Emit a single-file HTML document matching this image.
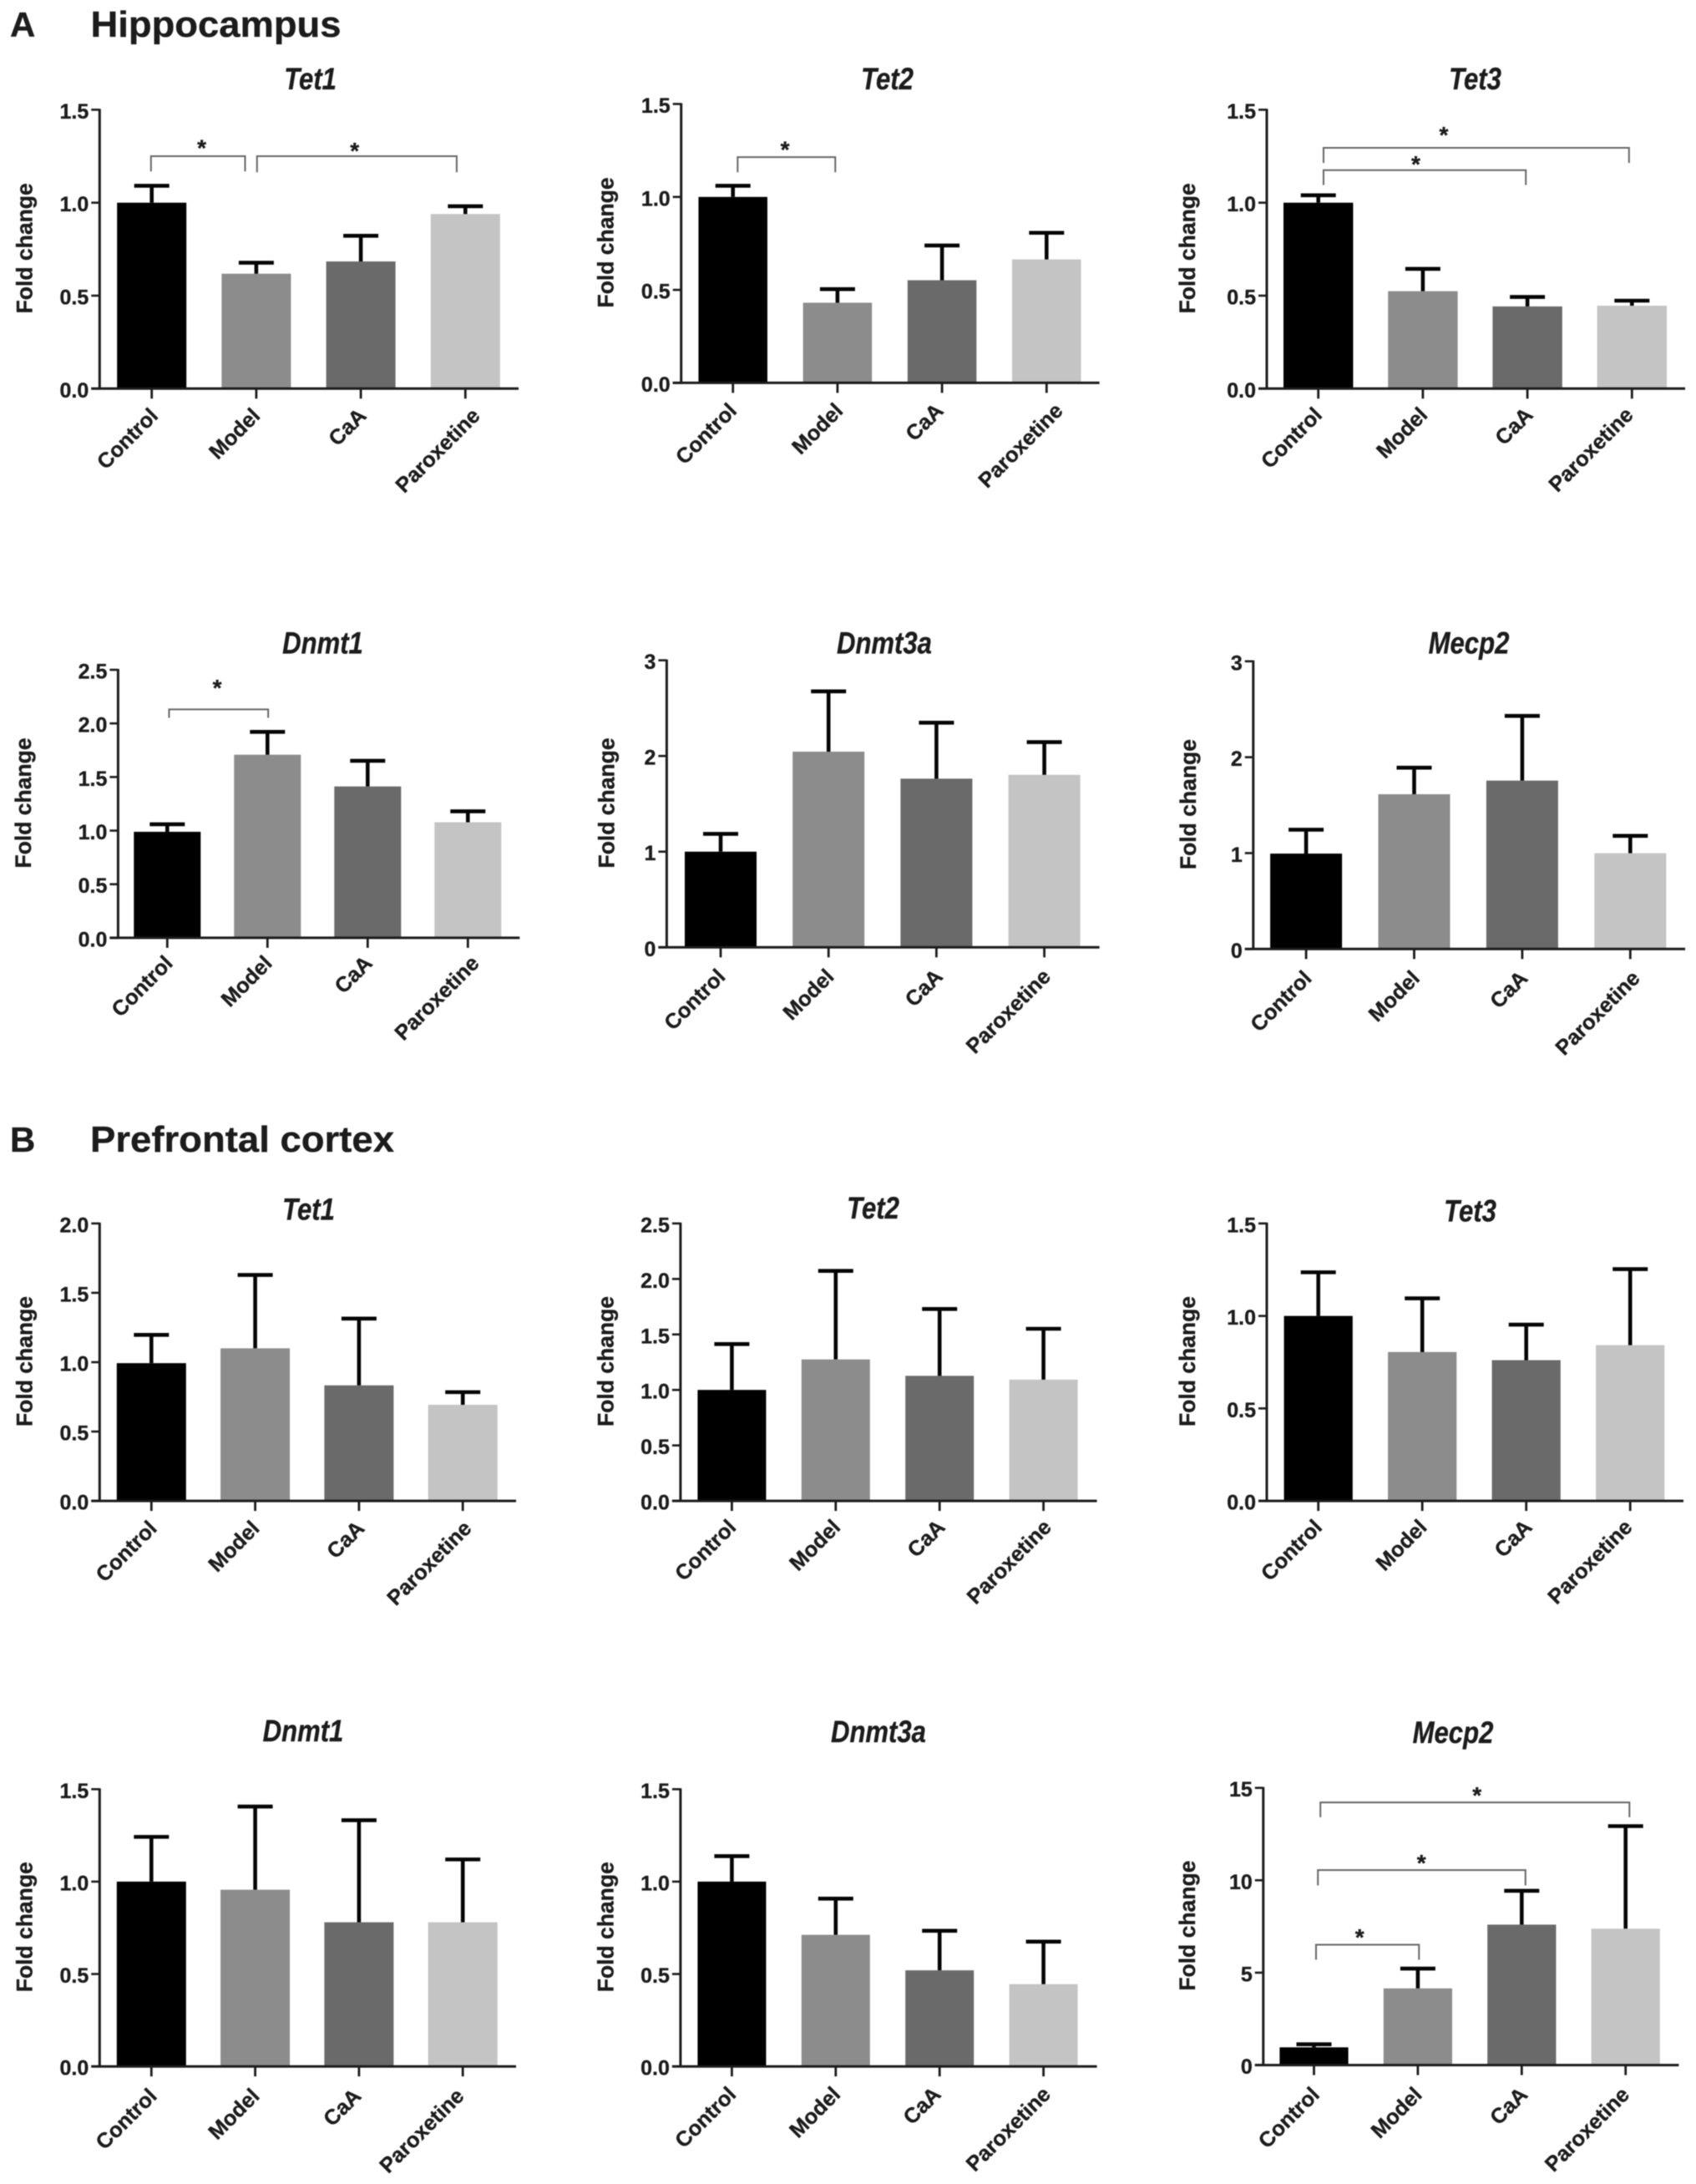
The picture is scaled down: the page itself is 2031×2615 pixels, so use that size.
<!DOCTYPE html>
<html lang="en">
<head>
<meta charset="utf-8">
<title>Fold change of methylation genes in hippocampus and prefrontal cortex</title>
<style>
html,body{margin:0;padding:0;background:#fff;width:2031px;height:2615px;overflow:hidden}
svg{display:block;filter:blur(.55px)}
text{font-family:"Liberation Sans",Arial,sans-serif;fill:#1c1c1c;stroke:#1c1c1c;stroke-width:.35px}
</style>
</head>
<body>
<svg id="figure" xmlns="http://www.w3.org/2000/svg" width="2031" height="2615" viewBox="0 0 2031 2615">
  <rect x="0" y="0" width="2031" height="2615" fill="#fff"/>
  <text x="12" y="44" font-size="42" font-weight="700">A</text>
  <text x="108.5" y="44" font-size="44" font-weight="700" textLength="300" lengthAdjust="spacingAndGlyphs">Hippocampus</text>
  <text x="12" y="1379" font-size="42" font-weight="700">B</text>
  <text x="108" y="1379" font-size="44" font-weight="700" textLength="364" lengthAdjust="spacingAndGlyphs">Prefrontal cortex</text>
</svg>
<script>
const categories = ['Control', 'Model', 'CaA', 'Paroxetine'];
const barColors = ['#000000', '#8c8c8c', '#6a6a6a', '#c4c4c4'];
const axisTitle = 'Fold change';

const hippoTet1Means = [1.0, 0.618, 0.684, 0.939];
const hippoTet1Upper = [1.091, 0.677, 0.822, 0.981];
const hippoTet1Ticks = ['0.0', '0.5', '1.0', '1.5'];
const hippoTet1Brackets = [[-0.007, 0.893, 1.25, 1.168, 0.478, 1.324], [1.007, 2.917, 1.25, 1.164, 1.941, 1.309]];

const hippoTet2Means = [1.0, 0.431, 0.552, 0.664];
const hippoTet2Upper = [1.06, 0.504, 0.739, 0.807];
const hippoTet2Ticks = ['0.0', '0.5', '1.0', '1.5'];
const hippoTet2Brackets = [[0.045, 0.979, 1.214, 1.133, 0.498, 1.285]];

const hippoTet3Means = [1.0, 0.524, 0.442, 0.446];
const hippoTet3Upper = [1.04, 0.644, 0.493, 0.473];
const hippoTet3Ticks = ['0.0', '0.5', '1.0', '1.5'];
const hippoTet3Brackets = [[0.05, 2.972, 1.295, 1.214, 1.2, 1.394], [0.05, 1.985, 1.175, 1.095, 0.933, 1.236]];

const hippoDnmt1Means = [0.989, 1.708, 1.412, 1.078];
const hippoDnmt1Upper = [1.059, 1.921, 1.651, 1.18];
const hippoDnmt1Ticks = ['0.0', '0.5', '1.0', '1.5', '2.0', '2.5'];
const hippoDnmt1Brackets = [[0.018, 1.007, 2.131, 2.052, 0.498, 2.382]];

const hippoDnmt3aMeans = [1.0, 2.045, 1.763, 1.803];
const hippoDnmt3aUpper = [1.186, 2.675, 2.348, 2.145];
const hippoDnmt3aTicks = ['0', '1', '2', '3'];

const hippoMecp2Means = [0.995, 1.614, 1.756, 0.999];
const hippoMecp2Upper = [1.244, 1.891, 2.431, 1.18];
const hippoMecp2Ticks = ['0', '1', '2', '3'];

const pfcTet1Means = [0.993, 1.1, 0.833, 0.693];
const pfcTet1Upper = [1.197, 1.629, 1.314, 0.784];
const pfcTet1Ticks = ['0.0', '0.5', '1.0', '1.5', '2.0'];

const pfcTet2Means = [1.0, 1.275, 1.127, 1.093];
const pfcTet2Upper = [1.413, 2.073, 1.729, 1.551];
const pfcTet2Ticks = ['0.0', '0.5', '1.0', '1.5', '2.0', '2.5'];

const pfcTet3Means = [1.0, 0.805, 0.761, 0.842];
const pfcTet3Upper = [1.236, 1.095, 0.953, 1.253];
const pfcTet3Ticks = ['0.0', '0.5', '1.0', '1.5'];

const pfcDnmt1Means = [1.0, 0.956, 0.78, 0.78];
const pfcDnmt1Upper = [1.242, 1.406, 1.332, 1.12];
const pfcDnmt1Ticks = ['0.0', '0.5', '1.0', '1.5'];

const pfcDnmt3aMeans = [1.0, 0.712, 0.52, 0.445];
const pfcDnmt3aUpper = [1.138, 0.908, 0.734, 0.675];
const pfcDnmt3aTicks = ['0.0', '0.5', '1.0', '1.5'];

const pfcMecp2Means = [0.96, 4.15, 7.6, 7.38];
const pfcMecp2Upper = [1.125, 5.22, 9.43, 12.93];
const pfcMecp2Ticks = ['0', '5', '10', '15'];
const pfcMecp2Brackets = [[0.062, 3.037, 14.21, 13.41, 1.569, 14.89], [0.038, 2.036, 10.55, 9.72, 1.035, 11.24], [0.02, 1.011, 6.51, 5.7, 0.44, 7.21]];

const panels = [
  {id: 'hippocampus-tet1', title: 'Tet1', means: hippoTet1Means, upper: hippoTet1Upper, ticks: hippoTet1Ticks, brackets: hippoTet1Brackets,
   frame: {axisX: 119.3, top: 131.4, bottom: 465.3, right: 621, first: 181.7, step: 125.2, barW: 83, titleX: 371.6, titleY: 107, yTitleX: 29.5, labelDy: 34, nudge: [9, 6, 8, 19]}},
  {id: 'hippocampus-tet2', title: 'Tet2', means: hippoTet2Means, upper: hippoTet2Upper, ticks: hippoTet2Ticks, brackets: hippoTet2Brackets,
   frame: {axisX: 815.7, top: 124.5, bottom: 458.4, right: 1316.6, first: 877.7, step: 125.2, barW: 82.5, titleX: 1062.5, titleY: 107, yTitleX: 725.5, labelDy: 35, nudge: [6, 8, 3, 21]}},
  {id: 'hippocampus-tet3', title: 'Tet3', means: hippoTet3Means, upper: hippoTet3Upper, ticks: hippoTet3Ticks, brackets: hippoTet3Brackets,
   frame: {axisX: 1517, top: 131.4, bottom: 465.3, right: 2018, first: 1578.7, step: 125.2, barW: 83.4, titleX: 1766.5, titleY: 107, yTitleX: 1422, labelDy: 33, nudge: [6, 7, 8, 3]}},
  {id: 'hippocampus-dnmt1', title: 'Dnmt1', means: hippoDnmt1Means, upper: hippoDnmt1Upper, ticks: hippoDnmt1Ticks, brackets: hippoDnmt1Brackets,
   frame: {axisX: 141.4, top: 802, bottom: 1122.9, right: 622.3, first: 200.3, step: 120, barW: 80, titleX: 386.5, titleY: 782.4, yTitleX: 28, labelDy: 32, nudge: [8, 7, 7, 15]}},
  {id: 'hippocampus-dnmt3a', title: 'Dnmt3a', means: hippoDnmt3aMeans, upper: hippoDnmt3aUpper, ticks: hippoDnmt3aTicks, brackets: [],
   frame: {axisX: 798.4, top: 790.6, bottom: 1134.3, right: 1316.6, first: 863, step: 129.2, barW: 86, titleX: 1059, titleY: 782.4, yTitleX: 726.4, labelDy: 36.5, nudge: [7, 8, 9, 9]}},
  {id: 'hippocampus-mecp2', title: 'Mecp2', means: hippoMecp2Means, upper: hippoMecp2Upper, ticks: hippoMecp2Ticks, brackets: [],
   frame: {axisX: 1500.8, top: 791.8, bottom: 1136.3, right: 2018, first: 1564.1, step: 129.4, barW: 86, titleX: 1759, titleY: 782.4, yTitleX: 1423, labelDy: 36.5, nudge: [8, 8, 8, 13]}},
  {id: 'prefrontal-tet1', title: 'Tet1', means: pfcTet1Means, upper: pfcTet1Upper, ticks: pfcTet1Ticks, brackets: [],
   frame: {axisX: 119.3, top: 1464.9, bottom: 1797.1, right: 618, first: 181.3, step: 124.3, barW: 83, titleX: 369.5, titleY: 1460.4, yTitleX: 29.5, labelDy: 34.4, nudge: [8, 6.5, 8, 12]}},
  {id: 'prefrontal-tet2', title: 'Tet2', means: pfcTet2Means, upper: pfcTet2Upper, ticks: pfcTet2Ticks, brackets: [],
   frame: {axisX: 814.9, top: 1464.9, bottom: 1797.1, right: 1313.6, first: 876.4, step: 124.4, barW: 82, titleX: 1045.5, titleY: 1459, yTitleX: 725.5, labelDy: 33, nudge: [6.5, 7, 8, 11]}},
  {id: 'prefrontal-tet3', title: 'Tet3', means: pfcTet3Means, upper: pfcTet3Upper, ticks: pfcTet3Ticks, brackets: [],
   frame: {axisX: 1517, top: 1464.9, bottom: 1797.1, right: 2016, first: 1578.7, step: 124.5, barW: 82.2, titleX: 1760.5, titleY: 1462.4, yTitleX: 1422, labelDy: 33, nudge: [6, 7, 8.5, 4]}},
  {id: 'prefrontal-dnmt1', title: 'Dnmt1', means: pfcDnmt1Means, upper: pfcDnmt1Upper, ticks: pfcDnmt1Ticks, brackets: [],
   frame: {axisX: 119.3, top: 2142.3, bottom: 2474.2, right: 618, first: 181.3, step: 124.3, barW: 83, titleX: 363, titleY: 2085.2, yTitleX: 29.5, labelDy: 37, nudge: [8, 6.5, 4, 3]}},
  {id: 'prefrontal-dnmt3a', title: 'Dnmt3a', means: pfcDnmt3aMeans, upper: pfcDnmt3aUpper, ticks: pfcDnmt3aTicks, brackets: [],
   frame: {axisX: 814.9, top: 2142.3, bottom: 2474.2, right: 1313.6, first: 876.4, step: 124.4, barW: 82, titleX: 1052, titleY: 2086, yTitleX: 725.5, labelDy: 35, nudge: [6.5, 7, 3, 10]}},
  {id: 'prefrontal-mecp2', title: 'Mecp2', means: pfcMecp2Means, upper: pfcMecp2Upper, ticks: pfcMecp2Ticks, brackets: pfcMecp2Brackets,
   frame: {axisX: 1512.8, top: 2140.7, bottom: 2472.6, right: 2010.4, first: 1573.5, step: 124.4, barW: 82.2, titleX: 1740, titleY: 2087, yTitleX: 1422, labelDy: 37, nudge: [8, 6.4, 8.5, 6]}}
];

const NS = 'http://www.w3.org/2000/svg';
const figure = document.getElementById('figure');

function make(parent, tag, attrs, content) {
  const node = document.createElementNS(NS, tag);
  for (const key in attrs) node.setAttribute(key, attrs[key]);
  if (content !== undefined) node.textContent = content;
  parent.appendChild(node);
  return node;
}

function drawPanel(panel) {
  const f = panel.frame;
  const maxValue = parseFloat(panel.ticks[panel.ticks.length - 1]);
  const yScale = function (v) { return f.bottom - (v / maxValue) * (f.bottom - f.top); };
  const xScale = function (i) { return f.first + i * f.step; };
  let el;

  const group = make(figure, 'g', {});
  
  

  el = make(group, 'text', {x: 0, y: 0, 'font-size': 37, 'font-weight': 700, 'font-style': 'italic', 'text-anchor': 'middle',
    transform: 'translate(' + f.titleX + ' ' + f.titleY + ') scale(.84 1)'}, panel.title);
  
  

  const yMid = (f.top + f.bottom) / 2 - 1;
  el = make(group, 'text', {x: 0, y: 0, 'font-size': 26.5, 'font-weight': 700, 'text-anchor': 'middle', 'dominant-baseline': 'central',
    transform: 'translate(' + f.yTitleX + ' ' + yMid + ') rotate(-90)'}, axisTitle);
  
  

  panel.means.forEach(function (mean, i) {
    const slug = categories[i].toLowerCase();
    const cx = xScale(i);
    const top = yScale(mean);
    const errTop = yScale(panel.upper[i]);

    el = make(group, 'rect', {x: cx - f.barW / 2, y: top, width: f.barW, height: f.bottom - top, fill: barColors[i]});
    
    

    el = make(group, 'line', {x1: cx, x2: cx, y1: top, y2: errTop, stroke: '#050505', 'stroke-width': 4.6});
    
    

    el = make(group, 'line', {x1: cx - 21, x2: cx + 21, y1: errTop, y2: errTop, stroke: '#050505', 'stroke-width': 4.6});
    
    

    el = make(group, 'line', {x1: cx, x2: cx, y1: f.bottom, y2: f.bottom + 12, stroke: '#1c1c1c', 'stroke-width': 2.8});
    
    

    const lx = cx + f.nudge[i];
    const ly = f.bottom + f.labelDy;
    el = make(group, 'text', {x: lx, y: ly, 'font-size': 25.5, 'font-weight': 700, 'text-anchor': 'end',
      transform: 'rotate(-45 ' + lx + ' ' + ly + ')'}, categories[i]);
    
    
  });

  panel.ticks.forEach(function (label) {
    const ty = yScale(parseFloat(label));

    el = make(group, 'line', {x1: f.axisX - 10, x2: f.axisX, y1: ty, y2: ty, stroke: '#1c1c1c', 'stroke-width': 2.6});
    
    

    el = make(group, 'text', {x: f.axisX - 13, y: ty + 10.5, 'font-size': 25, 'font-weight': 700, 'text-anchor': 'end'}, label);
    
    
  });

  el = make(group, 'line', {x1: f.axisX, x2: f.axisX, y1: f.top - 1, y2: f.bottom + 1, stroke: '#1c1c1c', 'stroke-width': 3});
  
  

  el = make(group, 'line', {x1: f.axisX - 10, x2: f.right, y1: f.bottom, y2: f.bottom, stroke: '#1c1c1c', 'stroke-width': 3});
  
  

  panel.brackets.forEach(function (b) {
    const x1 = xScale(b[0]);
    const x2 = xScale(b[1]);
    const y = yScale(b[2]);
    const drop = yScale(b[3]);

    el = make(group, 'path', {d: 'M' + x1 + ' ' + drop + 'V' + y + 'H' + x2 + 'V' + drop, fill: 'none', stroke: '#666', 'stroke-width': 2});
    
    

    el = make(group, 'text', {x: xScale(b[4]), y: yScale(b[5]) + 16, 'font-size': 28, 'font-weight': 700, 'text-anchor': 'middle'}, '*');
    
    
  });
}

panels.forEach(drawPanel);
</script>
</body>
</html>
